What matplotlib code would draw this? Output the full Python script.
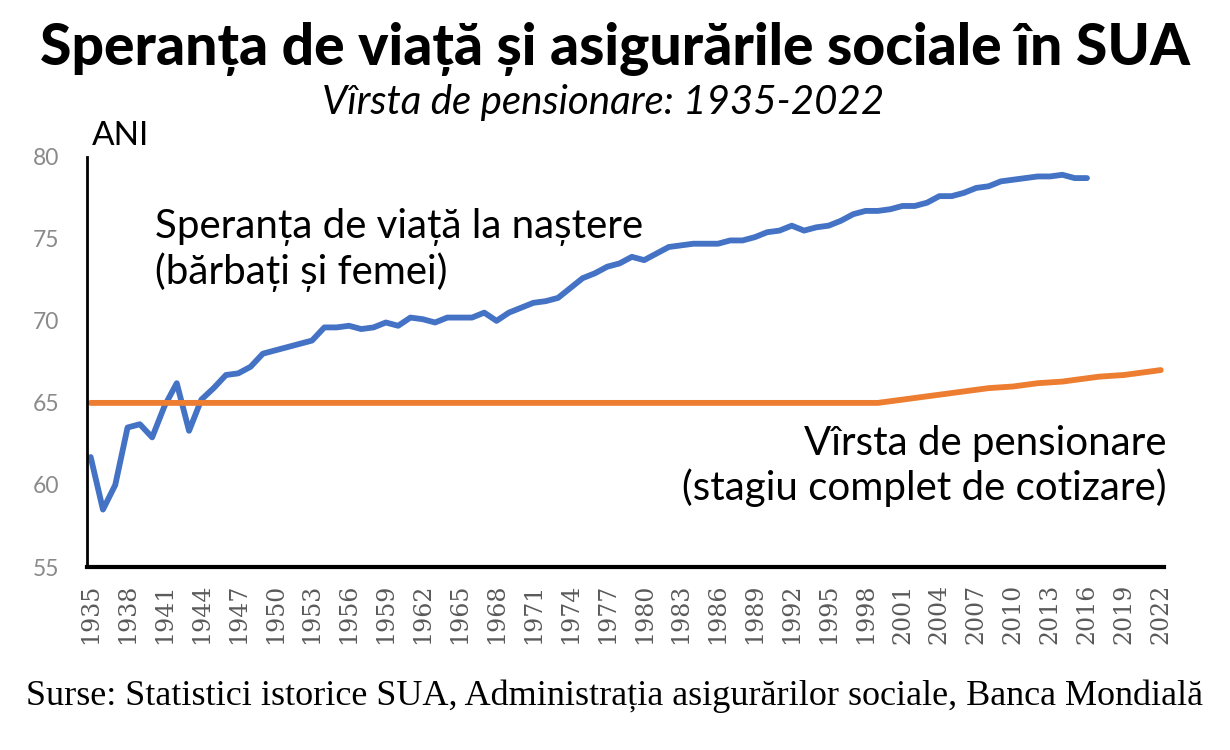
import matplotlib.pyplot as plt
import numpy as np

# speranta de viata la nastere, SUA (ani)
years_le = np.arange(1935, 2017)
life_exp = [61.7, 58.5, 60.0, 63.5, 63.7, 62.9, 64.8, 66.2, 63.3, 65.2,
            65.9, 66.7, 66.8, 67.2, 68.0, 68.2, 68.4, 68.6, 68.8, 69.6,
            69.6, 69.7, 69.5, 69.6, 69.9, 69.7, 70.2, 70.1, 69.9, 70.2,
            70.2, 70.2, 70.5, 70.0, 70.5, 70.8, 71.1, 71.2, 71.4, 72.0,
            72.6, 72.9, 73.3, 73.5, 73.9, 73.7, 74.1, 74.5, 74.6, 74.7,
            74.7, 74.7, 74.9, 74.9, 75.1, 75.4, 75.5, 75.8, 75.5, 75.7,
            75.8, 76.1, 76.5, 76.7, 76.7, 76.8, 77.0, 77.0, 77.2, 77.6,
            77.6, 77.8, 78.1, 78.2, 78.5, 78.6, 78.7, 78.8, 78.8, 78.9,
            78.7, 78.7]

# varsta de pensionare (stagiu complet)
years_ret = np.arange(1935, 2023)
ret_age = [65.0] * 65 + [65.1, 65.2, 65.3, 65.4, 65.5, 65.6, 65.7, 65.8,
                         65.9, 65.95, 66.0, 66.1, 66.2, 66.25, 66.3, 66.4,
                         66.5, 66.6, 66.65, 66.7, 66.8, 66.9, 67.0]

tick_years = np.arange(1935, 2023, 3)
y_ticks = [55, 60, 65, 70, 75, 80]

BLUE = '#4472C4'
ORANGE = '#ED7D31'
SANS = ['Lato', 'DejaVu Sans']

fig = plt.figure(figsize=(12.3, 7.5), dpi=100)
ax = fig.add_axes([0.0707, 0.244, 0.876, 0.547])

ax.plot(years_le, life_exp, color=BLUE, lw=4.2, solid_capstyle='round', solid_joinstyle='round')
ax.plot(years_ret, ret_age, color=ORANGE, lw=4.2, solid_capstyle='round')

ax.set_xlim(1934.7, 2022.3)
ax.set_ylim(55, 80)
ax.set_yticks(y_ticks)
ax.set_xticks(tick_years)
ax.set_xticklabels([str(y) for y in tick_years], rotation=90,
                   family=['DejaVu Serif'], fontsize=17, color='#5a5a5a')
ax.set_yticklabels([str(v) for v in y_ticks], family=SANS, fontsize=16.5, color='#8a8a8a')
ax.tick_params(axis='y', length=0, pad=20)
ax.tick_params(axis='x', length=0, pad=12)

for s in ['top', 'right']:
    ax.spines[s].set_visible(False)
ax.spines['left'].set_linewidth(2.0)
ax.spines['bottom'].set_linewidth(3.0)
ax.spines['left'].set_color('black')
ax.spines['bottom'].set_color('black')

fig.text(0.5, 1 - 65 / 750, 'Speranța de viață și asigurările sociale în SUA',
         ha='center', va='baseline', family=SANS, fontweight='black', fontsize=41)
fig.text(0.49, 1 - 114 / 750, 'Vîrsta de pensionare: 1935-2022',
         ha='center', va='baseline', family=SANS, style='italic', fontweight='normal', fontsize=29)
fig.text(92 / 1230, 1 - 145 / 750, 'ANI', ha='left', va='baseline', family=SANS, fontsize=24)

fig.text(155 / 1230, 1 - 208 / 750, 'Speranța de viață la naștere\n(bărbați și femei)',
         ha='left', va='top', family=SANS, fontsize=29, linespacing=1.2)
fig.text(1167 / 1230, 1 - 425 / 750, 'Vîrsta de pensionare\n(stagiu complet de cotizare)',
         ha='right', va='top', family=SANS, fontsize=29, linespacing=1.2)

fig.text(0.5, 1 - 705 / 750,
         'Surse: Statistici istorice SUA, Administrația asigurărilor sociale, Banca Mondială',
         ha='center', va='baseline', family=['Liberation Serif', 'DejaVu Serif'], fontsize=26)

fig.savefig('out.png', dpi=100, facecolor='white')
